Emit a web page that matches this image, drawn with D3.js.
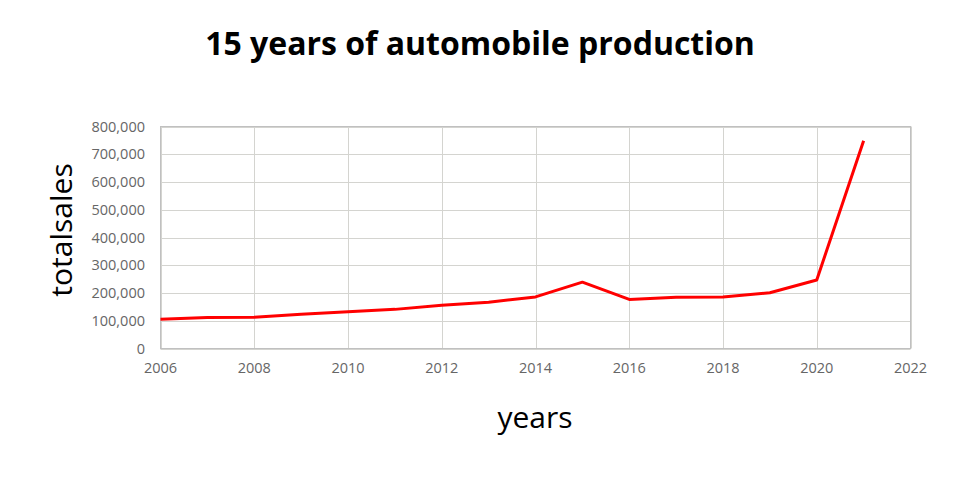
<!DOCTYPE html>
<html><head><meta charset="utf-8">
<script src="https://cdn.jsdelivr.net/npm/d3@7"></script>
<style>body{margin:0;background:#fff}</style>
</head><body>
<svg id="c" width="960" height="500"></svg>
<script>
const years = [2006,2007,2008,2009,2010,2011,2012,2013,2014,2015,2016,2017,2018,2019,2020,2021];
const totalsales = [105000,112000,113000,123000,132000,141000,156000,167000,186000,239000,177000,185000,186000,201000,247000,749000];
const xTicks = [2006,2008,2010,2012,2014,2016,2018,2020,2022];
const yTicks = [0,100000,200000,300000,400000,500000,600000,700000,800000];

const svg = d3.select("#c");
const font = "'Open Sans', sans-serif";
const x = d3.scaleLinear().domain([2006,2022]).range([160.5,910.5]);
const y = d3.scaleLinear().domain([0,800000]).range([348.5,126.5]);

// grid
svg.append("g").selectAll("line").data(yTicks).join("line")
  .attr("x1",x(2006)).attr("x2",x(2022)).attr("y1",d=>Math.round(y(d))+0.5).attr("y2",d=>Math.round(y(d))+0.5)
  .attr("stroke","#d4d4d0").attr("stroke-width",1);
svg.append("g").selectAll("line").data(xTicks).join("line")
  .attr("y1",y(0)).attr("y2",y(800000)).attr("x1",d=>Math.round(x(d))+0.5).attr("x2",d=>Math.round(x(d))+0.5)
  .attr("stroke","#d4d4d0").attr("stroke-width",1);
// border
svg.append("rect").attr("x",x(2006)).attr("y",y(800000)).attr("width",x(2022)-x(2006)).attr("height",y(0)-y(800000))
  .attr("fill","none").attr("stroke","#c0c0c0");

// axes labels
const fmt = d3.format(",");
svg.append("g").selectAll("text").data(yTicks).join("text")
  .attr("x",145).attr("y",d=>y(d)).attr("dy","0.35em").attr("text-anchor","end")
  .attr("font-family",font).attr("font-size",14.5).attr("fill","#666").text(d=>fmt(d));
svg.append("g").selectAll("text").data(xTicks).join("text")
  .attr("x",d=>x(d)).attr("y",373).attr("text-anchor","middle")
  .attr("font-family",font).attr("font-size",14.5).attr("fill","#666").text(d=>d);

// line
svg.append("path").datum(years.map((yr,i)=>[yr,totalsales[i]]))
  .attr("d",d3.line().x(d=>x(d[0])).y(d=>y(d[1])))
  .attr("fill","none").attr("stroke","#ff0000").attr("stroke-width",3).attr("stroke-linejoin","round");

// titles
svg.append("text").attr("x",480).attr("y",55).attr("text-anchor","middle")
  .attr("font-family",font).attr("font-weight","bold").attr("font-size",32).attr("fill","#000")
  .text("15 years of automobile production");
svg.append("text").attr("x",535).attr("y",428).attr("text-anchor","middle")
  .attr("font-family",font).attr("font-size",30).attr("fill","#000").text("years");
svg.append("text").attr("transform","translate(72,230) rotate(-90)").attr("text-anchor","middle")
  .attr("font-family",font).attr("font-size",30).attr("fill","#000").text("totalsales");
</script>
</body></html>
